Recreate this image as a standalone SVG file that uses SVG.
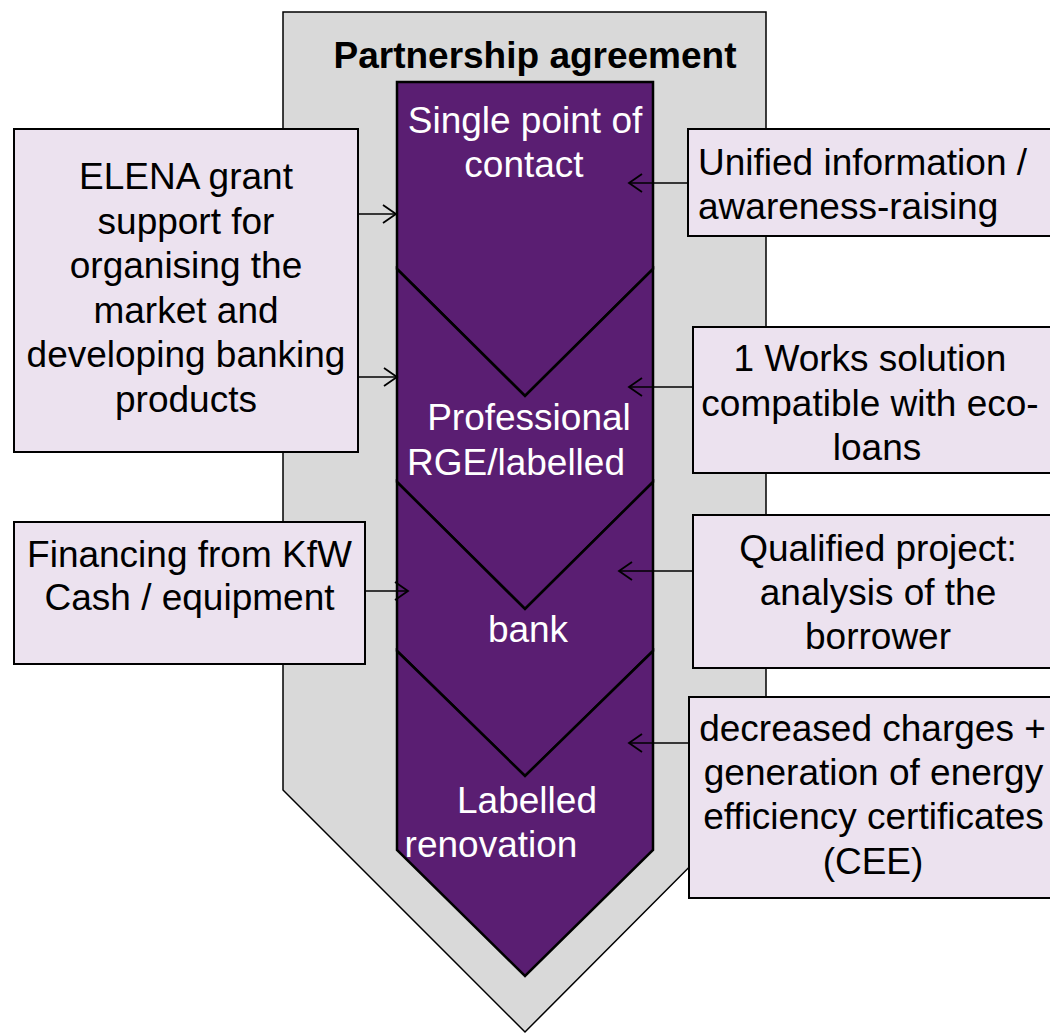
<svg xmlns="http://www.w3.org/2000/svg" width="1050" height="1034" viewBox="0 0 1050 1034">
<style>
.t{font-family:"Liberation Sans",Arial,sans-serif;font-size:37px;fill:#000}
.w{font-family:"Liberation Sans",Arial,sans-serif;font-size:37px;fill:#fff}
.c{text-anchor:middle}
.box{fill:#ECE2EF;stroke:#000;stroke-width:2}
.chev{fill:#5A1E72;stroke:#000;stroke-width:2.5;stroke-linejoin:miter}
.arr{stroke:#000;stroke-width:1.5;fill:none;marker-end:url(#ah)}
</style>
<defs>
<marker id="ah" markerUnits="userSpaceOnUse" markerWidth="16" markerHeight="22" viewBox="0 0 16 22" refX="14" refY="11" orient="auto">
<path d="M1,2 L14,11 L1,20" fill="none" stroke="#000" stroke-width="1.8"/>
</marker>
</defs>
<g id="partnership">
<polygon points="283,12 766,12 766,790 525,1032 283,790" fill="#D9D9D9" stroke="#000" stroke-width="1.5"/>
<text class="t c" x="535" y="68" font-weight="bold">Partnership agreement</text>
</g>
<g id="step1">
<polygon class="chev" points="397,82 653,82 653,269 525,396 397,269"/>
</g>
<g id="step2">
<polygon class="chev" points="397,269 525,396 653,269 653,482 525,609 397,482"/>
</g>
<g id="step3">
<polygon class="chev" points="397,482 525,609 653,482 653,651 525,776 397,651"/>
</g>
<g id="step4">
<polygon class="chev" points="397,651 525,776 653,651 653,850 525,976 397,850"/>
</g>
<g id="step-labels">
<text class="w c" x="525" y="133">Single point of</text>
<text class="w c" x="524" y="177">contact</text>
<text class="w c" x="529" y="430">Professional</text>
<text class="w c" x="516" y="475">RGE/labelled</text>
<text class="w c" x="528" y="642">bank</text>
<text class="w c" x="527" y="813">Labelled</text>
<text class="w c" x="491" y="857">renovation</text>
</g>
<g id="elena">
<rect class="box" x="14" y="129" width="344" height="323"/>
<text class="t c" x="186" y="189">ELENA grant</text>
<text class="t c" x="186" y="233.5">support for</text>
<text class="t c" x="186" y="278">organising the</text>
<text class="t c" x="186" y="322.5">market and</text>
<text class="t c" x="186" y="367">developing banking</text>
<text class="t c" x="186" y="411.5">products</text>
</g>
<g id="financing">
<rect class="box" x="14" y="522" width="351" height="142"/>
<text class="t c" x="189.5" y="567">Financing from KfW</text>
<text class="t c" x="189.5" y="610">Cash / equipment</text>
</g>
<g id="unified">
<rect class="box" x="688" y="129" width="370" height="107"/>
<text class="t" x="698" y="175">Unified information /</text>
<text class="t" x="698" y="219">awareness-raising</text>
</g>
<g id="works">
<rect class="box" x="693" y="327" width="365" height="146"/>
<text class="t c" x="870" y="371">1 Works solution</text>
<text class="t c" x="870" y="416">compatible with eco-</text>
<text class="t c" x="877" y="460">loans</text>
</g>
<g id="qualified">
<rect class="box" x="693" y="515" width="365" height="153"/>
<text class="t c" x="878" y="561">Qualified project:</text>
<text class="t c" x="878" y="605">analysis of the</text>
<text class="t c" x="878" y="649">borrower</text>
</g>
<g id="decreased">
<rect class="box" x="689" y="697" width="369" height="201"/>
<text class="t c" x="872.5" y="741">decreased charges +</text>
<text class="t c" x="873.5" y="785">generation of energy</text>
<text class="t c" x="873.5" y="829">efficiency certificates</text>
<text class="t c" x="873" y="874">(CEE)</text>
</g>
<g id="connectors">
<line class="arr" x1="358" y1="214" x2="396" y2="214"/>
<line class="arr" x1="358" y1="377" x2="397" y2="377"/>
<line class="arr" x1="365" y1="591" x2="408" y2="591"/>
<line class="arr" x1="688" y1="183" x2="629" y2="183"/>
<line class="arr" x1="693" y1="387" x2="629" y2="387"/>
<line class="arr" x1="693" y1="571" x2="619" y2="571"/>
<line class="arr" x1="689" y1="743" x2="629" y2="743"/>
</g>
</svg>
